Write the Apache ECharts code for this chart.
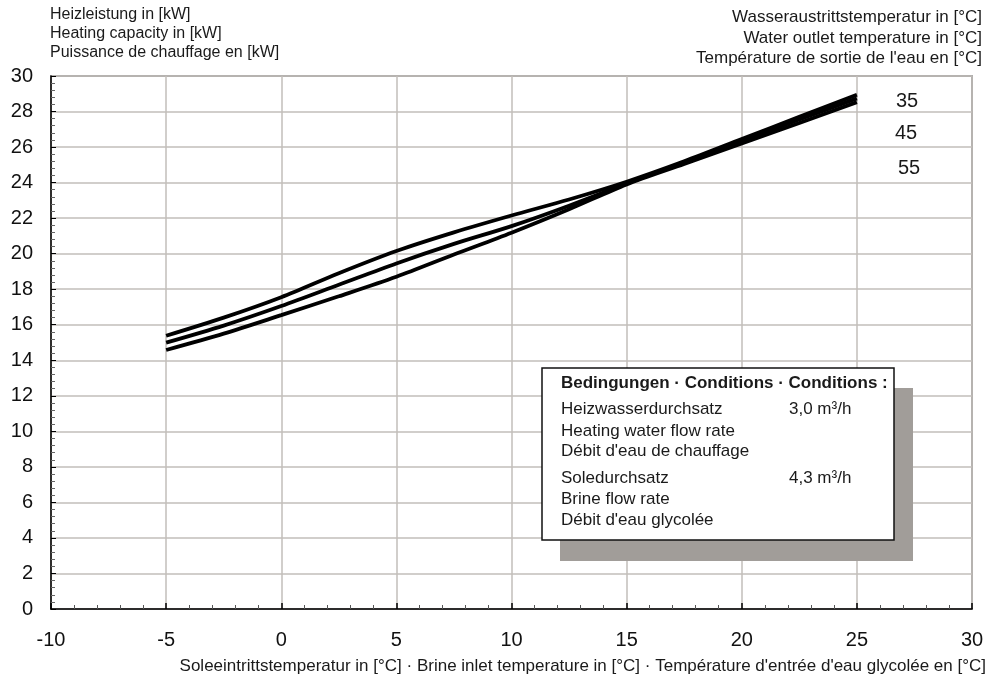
<!DOCTYPE html>
<html><head><meta charset="utf-8">
<script src="https://cdn.jsdelivr.net/npm/echarts@6/dist/echarts.min.js"></script>
<style>html,body{margin:0;padding:0;background:#fff}#c{width:990px;height:679px}</style>
</head><body><div id="c"></div>
<script>
const brineTemps = [-5, -2.5, 0, 2.5, 5, 7.5, 10, 12.5, 15, 17.5, 20, 22.5, 25];
const cap35 = [15.38, 16.4, 17.55, 18.9, 20.15, 21.2, 22.15, 23.05, 24.05, 25.2, 26.45, 27.7, 28.95];
const cap45 = [14.99, 15.95, 17.05, 18.25, 19.45, 20.55, 21.55, 22.7, 23.95, 25.15, 26.35, 27.55, 28.74];
const cap55 = [14.58, 15.5, 16.54, 17.6, 18.7, 19.95, 21.18, 22.5, 23.9, 25.05, 26.2, 27.35, 28.53];
const seriesNames = ['35', '45', '55'];
const xTicks = { min: -10, max: 30, interval: 5 };
const yTicks = { min: 0, max: 30, interval: 2 };

const FONT = '"Liberation Sans", Arial, sans-serif';
const chart = echarts.init(document.getElementById('c'), null, { renderer: 'canvas' });
const pairs = arr => brineTemps.map((x, i) => [x, arr[i]]);
const lineSeries = (name, arr) => ({
  name, type: 'line', data: pairs(arr), smooth: 0.3, symbol: 'none',
  lineStyle: { color: '#000', width: 3.8 }, z: 5
});
const txt = (x, y, text, size, opts, z) => ({
  type: 'text', x, y, z: z || 1,
  style: Object.assign({ text, fill: '#1a1a1a', fontSize: size, fontFamily: FONT, fontWeight: 'normal', verticalAlign: 'middle' }, opts || {})
});

chart.setOption({
  animation: false,
  grid: { left: 51, right: 18, top: 76, bottom: 70, show: true, borderColor: '#707070', borderWidth: 1.5, backgroundColor: '#fff' },
  xAxis: {
    type: 'value', min: xTicks.min, max: xTicks.max, interval: xTicks.interval,
    axisLine: { onZero: false, lineStyle: { color: '#000', width: 1.5 } },
    axisTick: { show: true, inside: true, length: 6, lineStyle: { color: '#000', width: 1.5 } },
    minorTick: { show: true, splitNumber: 5, length: 4, lineStyle: { color: '#555' } },
    splitLine: { show: true, lineStyle: { color: '#c2beba', width: 1.5 } },
    axisLabel: { color: '#111', fontSize: 20, fontFamily: FONT, margin: 21 }
  },
  yAxis: {
    type: 'value', min: yTicks.min, max: yTicks.max, interval: yTicks.interval,
    axisLine: { show: true, onZero: false, lineStyle: { color: '#000', width: 1.5 } },
    axisTick: { show: true, inside: true, length: 5, lineStyle: { color: '#000' } },
    minorTick: { show: true, splitNumber: 5, length: 4, lineStyle: { color: '#666' } },
    splitLine: { show: true, lineStyle: { color: '#c2beba', width: 1.5 } },
    axisLabel: { color: '#111', fontSize: 20, fontFamily: FONT, margin: 18 }
  },
  series: [lineSeries(seriesNames[0], cap35), lineSeries(seriesNames[1], cap45), lineSeries(seriesNames[2], cap55)],
  graphic: [
    txt(50, 15, 'Heizleistung in [kW]', 16),
    txt(50, 34, 'Heating capacity in [kW]', 16),
    txt(50, 53, 'Puissance de chauffage en [kW]', 16),
    txt(982, 17, 'Wasseraustrittstemperatur in [°C]', 17, { align: 'right' }),
    txt(982, 38, 'Water outlet temperature in [°C]', 17, { align: 'right' }),
    txt(982, 58, "Température de sortie de l'eau en [°C]", 17, { align: 'right' }),
    txt(986, 666, "Soleeintrittstemperatur in [°C] · Brine inlet temperature in [°C] · Température d'entrée d'eau glycolée en [°C]", 17, { align: 'right' }),
    txt(907, 101, seriesNames[0], 20, { align: 'center' }),
    txt(906, 133, seriesNames[1], 20, { align: 'center' }),
    txt(909, 168, seriesNames[2], 20, { align: 'center' }),
    { type: 'rect', z: 10, shape: { x: 560, y: 388, width: 353, height: 173 }, style: { fill: '#a19d99' } },
    { type: 'rect', z: 11, shape: { x: 542, y: 368, width: 352, height: 172 }, style: { fill: '#fff', stroke: '#111', lineWidth: 1.5 } },
    txt(561, 383, 'Bedingungen · Conditions · Conditions :', 17, { fontWeight: 'bold' }, 12),
    txt(561, 409, 'Heizwasserdurchsatz', 17, null, 12),
    txt(561, 431, 'Heating water flow rate', 17, null, 12),
    txt(561, 451, "Débit d'eau de chauffage", 17, null, 12),
    txt(789, 409, '3,0 m³/h', 17, null, 12),
    txt(561, 478, 'Soledurchsatz', 17, null, 12),
    txt(561, 499, 'Brine flow rate', 17, null, 12),
    txt(561, 520, "Débit d'eau glycolée", 17, null, 12),
    txt(789, 478, '4,3 m³/h', 17, null, 12)
  ]
});
</script></body></html>
